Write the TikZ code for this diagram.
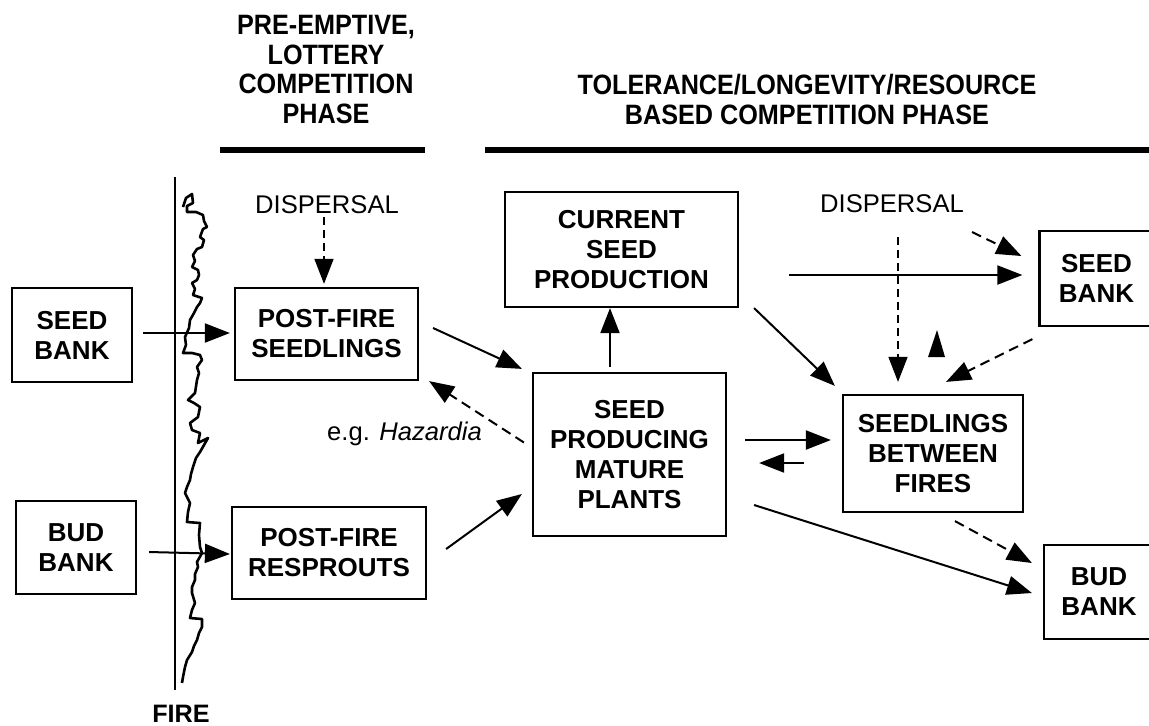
\documentclass[tikz,border=0pt]{standalone}
\usepackage{fontspec}
\setmainfont{Liberation Sans}
\newfontfamily\hdrfont[FakeStretch=0.9]{Liberation Sans}
\usetikzlibrary{arrows.meta}

\begin{document}
\begin{tikzpicture}[x=0.5pt,y=-0.5pt,
    box/.style={draw,line width=1.1pt,inner sep=0pt,align=center,
        font=\fontsize{13}{15}\selectfont\bfseries},
    lbl/.style={inner sep=0pt,font=\fontsize{12.8}{15}\selectfont},
    hdr/.style={inner sep=0pt,align=center,
        font=\hdrfont\fontsize{14}{14.85}\selectfont\bfseries},
    arr/.style={line width=1pt,-{Triangle[length=12.5pt,width=9.5pt]}},
    darr/.style={arr,dash pattern=on 5pt off 3pt},
    ddarr/.style={arr,line width=0.7pt,dash pattern=on 4pt off 2.5pt}
]
    \useasboundingbox (0,0) rectangle (1149,725);

    % phase headings
    \node[hdr] (lottery) at (326,69.5) {PRE-EMPTIVE,\\LOTTERY\\COMPETITION\\PHASE};
    \node[hdr] (tolerance) at (807,99.5) {TOLERANCE/LONGEVITY/RESOURCE\\BASED COMPETITION PHASE};
    \draw[line width=2.6pt] (220,150) -- (425,150);
    \draw[line width=2.6pt] (485,150) -- (1149,150);

    % fire
    \draw[line width=1pt] (175,177) -- (175,690);
    \draw[line width=1.3pt,line join=round] plot coordinates {
        (183,207) (186,198) (192,194) (193,203) (187,206) (187,212)
        (196,212) (203,215) (204,221) (207,227) (203,229) (200,237)
        (204,240) (202,247) (197,249) (193,255) (195,261) (192,267)
        (198,270) (199,275) (197,280) (192,283) (195,289) (193,295)
        (202,298) (200,303) (197,307) (194,313) (190,320) (189,328)
        (185,337) (186,345) (183,353) (192,353) (200,355) (202,360)
        (197,367) (199,373) (197,380) (195,393) (188,400) (194,403)
        (200,407) (198,417) (190,423) (192,430) (200,433) (198,443)
        (208,438) (200,452) (196,458) (193,467) (191,474) (190,480)
        (187,487) (185,493) (190,503) (188,512) (187,522) (200,523)
        (199,535) (200,547) (202,553) (197,562) (198,567) (195,574)
        (195,580) (192,587) (192,593) (195,603) (192,610) (190,618)
        (202,619) (202,627) (199,633) (197,640) (194,646) (192,652)
        (187,660) (185,667) (183,677) (182,683)};
    \node[inner sep=0pt,font=\fontsize{12.6}{14}\selectfont\bfseries] (fire) at (181,714) {FIRE};

    % boxes
    \node[box,minimum width=60pt,minimum height=47pt] (sbL) at (72,335) {SEED\\BANK};
    \node[box,minimum width=60pt,minimum height=46.5pt] (bbL) at (76,547.5) {BUD\\BANK};
    \node[box,minimum width=91.5pt,minimum height=46pt] (pfs) at (326.5,334) {POST-FIRE\\SEEDLINGS};
    \node[box,minimum width=97pt,minimum height=46pt] (pfr) at (329,553) {POST-FIRE\\RESPROUTS};
    \node[box,minimum width=116.5pt,minimum height=57.5pt] (csp) at (621.5,249.5) {CURRENT\\SEED\\PRODUCTION};
    \node[box,minimum width=96.5pt,minimum height=81.5pt] (spm) at (629.5,454.5) {SEED\\PRODUCING\\MATURE\\PLANTS};
    \node[box,minimum width=90pt,minimum height=58.5pt] (sbf) at (933,453.5) {SEEDLINGS\\BETWEEN\\FIRES};
    \node[box,minimum width=57pt,minimum height=47.5pt] (sbR) at (1096.5,278.5) {SEED\\BANK};
    \node[box,minimum width=55pt,minimum height=47pt] (bbR) at (1099,592) {BUD\\BANK};

    % labels
    \node[lbl] (disp1) at (327,205) {DISPERSAL};
    \node[lbl] (disp2) at (892,204) {DISPERSAL};
    \node[lbl] (eg) at (404.5,434) {e.g. \textit{Hazardia}};

    % fire phase
    \draw[arr] ([shift={(5pt,1pt)}]sbL.east) -- ([shift={(-2pt,0.5pt)}]pfs.west);
    \draw[arr] ([shift={(6pt,-2.25pt)}]bbL.east) -- ([shift={(-0.5pt,-0.5pt)}]pfr.west);
    \draw[ddarr] ([shift={(-1.5pt,-6pt)}]disp1.center) -- ([shift={(-1.25pt,1.5pt)}]pfs.north);
    \draw[arr] ([shift={(7pt,3pt)}]pfs.east) -- ([shift={(-5pt,1.5pt)}]spm.north west);
    \draw[darr] ([shift={(-4pt,6pt)}]spm.west) -- ([xshift=5pt]pfs.south east);
    \draw[arr] ([shift={(9.5pt,2pt)}]pfr.east) -- ([shift={(-5pt,-19.75pt)}]spm.west);

    % between fires
    \draw[arr] ([shift={(-9.75pt,2.5pt)}]spm.north) -- ([xshift=-5.75pt]csp.south);
    \draw[arr] ([shift={(25pt,-12.75pt)}]csp.east) -- ([shift={(-8pt,1.75pt)}]sbR.west);
    \draw[arr] ([xshift=7.5pt]csp.south east) -- ([shift={(-3.5pt,4pt)}]sbf.north west);
    \draw[ddarr] ([shift={(3pt,-16.5pt)}]disp2.center) -- ([shift={(-17.5pt,6pt)}]sbf.north);
    \draw[darr] ([shift={(40pt,-14pt)}]disp2.center) -- ([shift={(-8.5pt,11.25pt)}]sbR.west);
    \draw[darr] ([shift={(-3pt,-6pt)}]sbR.south west) -- ([shift={(6.5pt,6pt)}]sbf.north);
    \fill (928,357) -- (945,357) -- (937,330) -- cycle;
    \draw[arr] ([shift={(9pt,7.25pt)}]spm.east) -- ([shift={(-5.5pt,6.75pt)}]sbf.west);
    \draw[arr] ([shift={(-19pt,-4.75pt)}]sbf.west) -- ([shift={(16pt,-4.25pt)}]spm.east);
    \draw[arr] ([shift={(13.5pt,-25.25pt)}]spm.east) -- ([shift={(-5.5pt,-0.5pt)}]bbR.west);
    \draw[darr] ([shift={(11pt,-4pt)}]sbf.south) -- ([shift={(-5.5pt,14.5pt)}]bbR.west);
\end{tikzpicture}
\end{document}
